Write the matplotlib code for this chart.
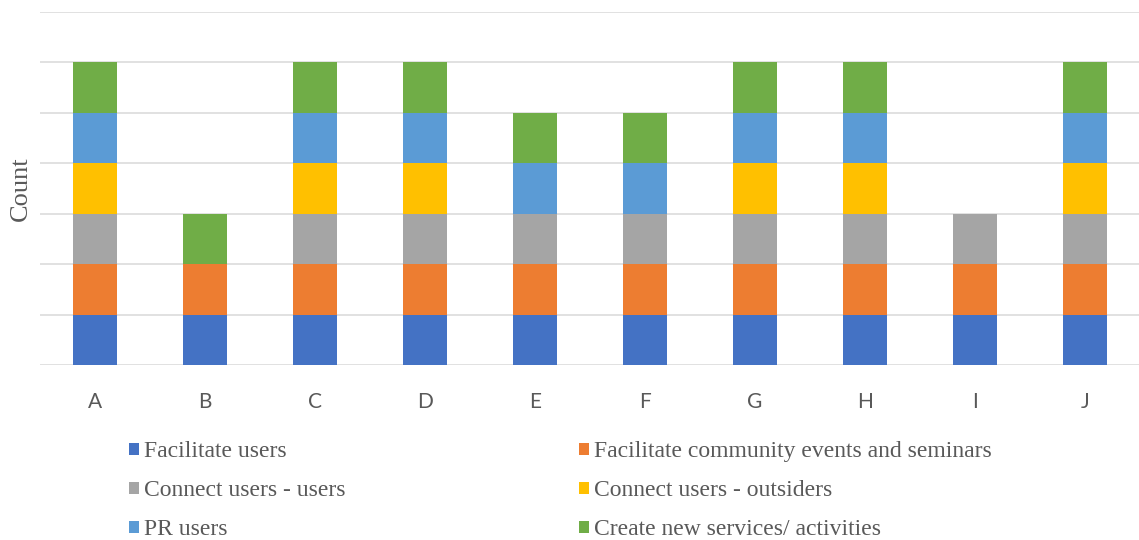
import numpy as np
import matplotlib.pyplot as plt
from matplotlib.patches import Patch

sites = ["A", "B", "C", "D", "E", "F", "G", "H", "I", "J"]

facilitate_users = [1, 1, 1, 1, 1, 1, 1, 1, 1, 1]
community_events = [1, 1, 1, 1, 1, 1, 1, 1, 1, 1]
connect_users = [1, 0, 1, 1, 1, 1, 1, 1, 1, 1]
connect_outsiders = [1, 0, 1, 1, 0, 0, 1, 1, 0, 1]
pr_users = [1, 0, 1, 1, 1, 1, 1, 1, 0, 1]
new_services = [1, 1, 1, 1, 1, 1, 1, 1, 0, 1]

series = [
    ("Facilitate users", facilitate_users, "#4472C4"),
    ("Facilitate community events and seminars", community_events, "#ED7D31"),
    ("Connect users - users", connect_users, "#A5A5A5"),
    ("Connect users - outsiders", connect_outsiders, "#FFC000"),
    ("PR users", pr_users, "#5B9BD5"),
    ("Create new services/ activities", new_services, "#70AD47"),
]

fig = plt.figure(figsize=(11.39, 5.4), dpi=100)
ax = fig.add_axes([40 / 1139, 175 / 540, 1100 / 1139, 353 / 540])

x = np.arange(len(sites))
bottom = np.zeros(len(sites))
for name, vals, color in series:
    vals = np.array(vals, dtype=float)
    ax.bar(x, vals, width=0.4, bottom=bottom, color=color, zorder=2)
    bottom += vals

ax.set_xlim(-0.5, len(sites) - 0.5)
ax.set_ylim(0, 7)
ax.set_yticks(range(8))
ax.yaxis.grid(True, color="#D9D9D9", linewidth=1.1, zorder=0)
ax.set_axisbelow(True)
ax.tick_params(axis="y", left=False, labelleft=False)
ax.tick_params(axis="x", bottom=False, pad=16)
ax.set_xticks(x)
ax.set_xticklabels(sites, fontsize=15, color="#595959", family="Lato")
for s in ax.spines.values():
    s.set_visible(False)

ax.set_ylabel("Count", fontsize=19, color="#595959", family="Liberation Serif", labelpad=6)

# legend filled row by row: two entries per row
handles = [Patch(facecolor=c, label=n) for n, _, c in series]
order = [0, 2, 4, 1, 3, 5]
fig.legend(handles=[handles[i] for i in order], ncol=2, loc="upper left",
           bbox_to_anchor=(120 / 1139, 1 - 432 / 540),
           frameon=False, handlelength=0.42, handleheight=0.42,
           handletextpad=0.2, columnspacing=9.9, labelspacing=0.76,
           borderaxespad=0, borderpad=0.4,
           prop={"family": "Liberation Serif", "size": 17},
           labelcolor="#595959")

fig.savefig("out.png", dpi=100)
